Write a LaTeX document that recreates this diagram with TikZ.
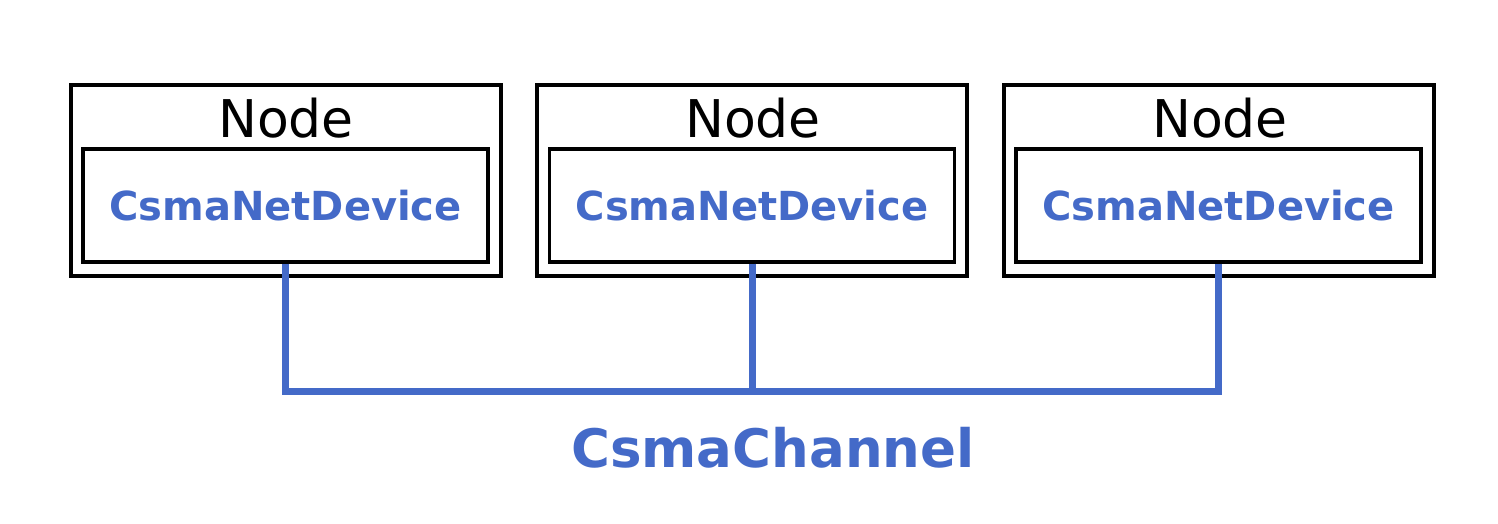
\documentclass[tikz,border=0pt]{standalone}
\usepackage{fontspec}
\setmainfont{DejaVu Sans}
\definecolor{csblue}{RGB}{68,106,200}
\begin{document}
\begin{tikzpicture}[x=1pt,y=-1pt,
  outerbox/.style={draw=black,line width=3.4pt,minimum width=430pt,minimum height=191pt,inner sep=0pt},
  innerbox/.style={draw=black,line width=3.4pt,minimum width=405pt,minimum height=113pt,inner sep=0pt,
    font=\fontsize{40}{44}\selectfont\bfseries,text=csblue},
  nodelabel/.style={anchor=base,font=\fontsize{52}{56}\selectfont,text=black,inner sep=0pt},
  chanlabel/.style={anchor=base,font=\fontsize{53}{58}\selectfont\bfseries,text=csblue,inner sep=0pt},
  bus/.style={draw=csblue,line width=7pt}]
\useasboundingbox (0,0) rectangle (1498,524);
\node[outerbox] (o1) at (286,180.5) {};
\node[outerbox] (o2) at (752,180.5) {};
\node[outerbox] (o3) at (1219,180.5) {};
\node[innerbox] (d1) at (285.5,205.5) {CsmaNetDevice};
\node[innerbox] (d2) at (752,205.5) {CsmaNetDevice};
\node[innerbox] (d3) at (1218.5,205.5) {CsmaNetDevice};
\node[nodelabel] (n1) at (286,138) {Node};
\node[nodelabel] (n2) at (753,138) {Node};
\node[nodelabel] (n3) at (1220,138) {Node};
\coordinate (b1) at (285.5,391);
\coordinate (b2) at (752,391);
\coordinate (b3) at (1218.5,391);
\draw[bus] (d1.south) -- (b1) -- (b3) -- (d3.south);
\draw[bus] (d2.south) -- (b2);
\node[chanlabel] (ch) at (773,467) {CsmaChannel};
\end{tikzpicture}
\end{document}
